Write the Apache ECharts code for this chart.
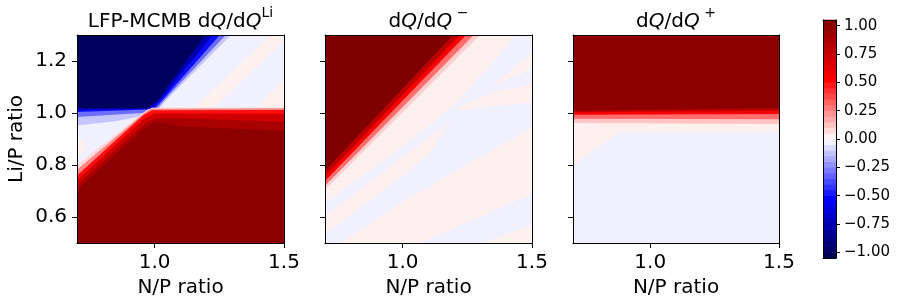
<!DOCTYPE html>
<html><head><meta charset="utf-8">
<script src="https://cdn.jsdelivr.net/npm/echarts@6/dist/echarts.min.js"></script>
<style>html,body{margin:0;padding:0;background:#fff}#c{width:900px;height:308px}</style>
</head><body><div id="c"></div>
<script>
// ---------- data ----------
const xTicks = [1.0, 1.5];
const yTicks = [0.6, 0.8, 1.0, 1.2];
const cbarTicks = [-1, -0.75, -0.5, -0.25, 0, 0.25, 0.5, 0.75, 1];
const cbarLevels = [-1.05,-1,-0.95,-0.9,-0.85,-0.8,-0.75,-0.7,-0.65,-0.6,-0.55,-0.5,-0.45,-0.4,-0.35,-0.3,-0.25,-0.2,-0.15,-0.1,-0.05,0,
  0.05,0.1,0.15,0.2,0.25,0.3,0.35,0.4,0.45,0.5,0.55,0.6,0.65,0.7,0.75,0.8,0.85,0.9,0.95,1,1.05];
const titles = ['LFP-MCMB dQ/dQ^Li', 'dQ/dQ^−', 'dQ/dQ^+'];

// contour-filled regions: value of each region and its outline in (N/P, Li/P) units, drawn in order
const p1Values = [-0.03, 0.03, 0.03, 0.03, -0.12, -0.3, -0.5, -0.75, -1.0, 0.08, 0.25, 0.5, 0.72, 0.88, 1.0];
const p1Regions = [
  [[0.7,0.5],[1.5,0.5],[1.5,1.3],[0.7,1.3]],
  [[1.15,1.017],[1.225,1.017],[1.5,1.277],[1.5,1.3],[1.45,1.3]],
  [[1.39,1.017],[1.5,1.017],[1.5,1.13]],
  [[0.7,0.83],[0.735,0.86],[0.725,0.895],[0.7,0.905]],
  [[0.7,1.3],[1.295,1.3],[1.14,1.145],[1.05,1.055],[1.012,1.012],[0.96,0.99],[0.85,0.968],[0.7,0.952]],
  [[0.7,1.3],[1.275,1.3],[1.128,1.145],[1.042,1.055],[1.005,1.012],[0.95,1.0],[0.7,0.985]],
  [[0.7,1.3],[1.252,1.3],[1.115,1.145],[1.035,1.055],[0.997,1.014],[0.7,1.004]],
  [[0.7,1.3],[1.225,1.3],[1.098,1.145],[1.026,1.055],[0.985,1.016],[0.7,1.012]],
  [[0.7,1.3],[1.197,1.3],[1.081,1.145],[1.017,1.055],[0.972,1.018],[0.7,1.018]],
  [[0.7,0.5],[1.5,0.5],[1.5,1.021],[0.99,1.02],[0.97,1.012],[0.7,0.80]],
  [[0.7,0.5],[1.5,0.5],[1.5,1.018],[0.985,1.016],[0.96,1.0],[0.7,0.782]],
  [[0.7,0.5],[1.5,0.5],[1.5,1.012],[0.99,1.011],[0.955,0.99],[0.7,0.76]],
  [[0.7,0.5],[1.5,0.5],[1.5,0.997],[1.0,0.998],[0.955,0.975],[0.7,0.74]],
  [[0.7,0.5],[1.5,0.5],[1.5,0.966],[1.05,0.982],[1.0,0.978],[0.955,0.955],[0.7,0.722]],
  [[0.7,0.5],[1.5,0.5],[1.5,0.932],[1.1,0.948],[1.0,0.966],[0.96,0.94],[0.7,0.705]]
];

const p2Values = [0.03, -0.03, -0.03, -0.03, 0.03, 0.1, 0.3, 0.55, 0.8, 1.05];
const p2Regions = [
  [[0.7,0.5],[1.5,0.5],[1.5,1.3],[0.7,1.3]],
  [[1.44,1.3],[1.5,1.3],[1.5,1.235],[1.23,1.0],[1.0,0.83],[0.7,0.603],[0.7,0.654],[1.0,0.87],[1.2,1.03]],
  [[1.5,1.17],[1.5,0.945],[1.3,0.83],[1.0,0.66],[0.76,0.5],[0.7,0.5],[0.7,0.535],[0.95,0.72],[1.1,0.84],[1.2,0.99],[1.3,1.08]],
  [[1.5,0.69],[1.5,0.57],[1.31,0.5],[1.07,0.5]],
  [[1.5,1.11],[1.5,1.04],[1.3,1.02],[1.225,1.008],[1.212,1.018],[1.24,1.035],[1.35,1.08]],
  [[0.7,1.3],[1.30,1.3],[0.7,0.705]],
  [[0.7,1.3],[1.275,1.3],[0.7,0.72]],
  [[0.7,1.3],[1.245,1.3],[0.7,0.738]],
  [[0.7,1.3],[1.22,1.3],[0.7,0.757]],
  [[0.7,1.3],[1.195,1.3],[0.7,0.778]]
];

const p3Values = [-0.03, 0.03, -0.03, 0.12, 0.3, 0.55, 0.8, 1.0];
const p3Regions = [
  [[0.7,0.5],[1.5,0.5],[1.5,1.3],[0.7,1.3]],
  [[0.7,0.80],[0.883,0.928],[1.5,0.925],[1.5,1.3],[0.7,1.3]],
  [[0.7,0.835],[0.712,0.852],[0.7,0.87]],
  [[0.7,0.962],[1.5,0.958],[1.5,1.3],[0.7,1.3]],
  [[0.7,0.978],[1.5,0.976],[1.5,1.3],[0.7,1.3]],
  [[0.7,0.993],[1.5,0.996],[1.5,1.3],[0.7,1.3]],
  [[0.7,1.003],[1.5,1.009],[1.5,1.3],[0.7,1.3]],
  [[0.7,1.01],[1.5,1.018],[1.5,1.3],[0.7,1.3]]
];

// ---------- styling helpers ----------
const FONT = 'DejaVu Sans';
const FS = 20;
function seismic(v) {
  let t = (v + 1.05) / 2.1; t = Math.max(0, Math.min(1, t));
  const st = [[0,0,0.3],[0,0,1],[1,1,1],[1,0,0],[0.5,0,0]];
  const s = t * 4; const i = Math.min(3, Math.floor(s)); const f = s - i;
  const a = st[i], b = st[i+1];
  return 'rgb(' + [0,1,2].map(k => Math.round(255 * (a[k] + (b[k]-a[k]) * f))).join(',') + ')';
}
const panels = [
  {left: 77, width: 207, regions: p1Regions, values: p1Values},
  {left: 325, width: 207, regions: p2Regions, values: p2Values},
  {left: 573, width: 206, regions: p3Regions, values: p3Values}
];
const TOP = 35, H = 208;
const lineS = {color: '#000', width: 1};

const grid = [], xAxis = [], yAxis = [], series = [], graphic = [];
panels.forEach((p, i) => {
  grid.push({left: p.left, top: TOP, width: p.width, height: H});
  xAxis.push({gridIndex: i, type: 'value', min: 0.7, max: 1.5, position: 'bottom', z: 10,
    axisLine: {show: true, onZero: false, lineStyle: lineS},
    axisTick: {show: true, length: 5, customValues: xTicks, lineStyle: lineS},
    axisLabel: {customValues: xTicks, formatter: v => v.toFixed(1), fontSize: FS, fontFamily: FONT, color: '#000', margin: 10},
    splitLine: {show: false},
    name: 'N/P ratio', nameLocation: 'middle', nameGap: 31,
    nameTextStyle: {fontSize: FS, fontFamily: FONT, color: '#000'}});
  xAxis.push({gridIndex: i, type: 'value', min: 0.7, max: 1.5, position: 'top', z: 10,
    axisLine: {show: true, onZero: false, lineStyle: lineS}, axisTick: {show: false}, axisLabel: {show: false}, splitLine: {show: false}});
  yAxis.push({gridIndex: i, type: 'value', min: 0.5, max: 1.3, position: 'left', z: 10,
    axisLine: {show: true, onZero: false, lineStyle: lineS},
    axisTick: {show: true, length: 5, customValues: yTicks, lineStyle: lineS},
    axisLabel: {show: i === 0, customValues: yTicks, formatter: v => v.toFixed(1), fontSize: FS, fontFamily: FONT, color: '#000', margin: 10},
    splitLine: {show: false},
    name: i === 0 ? 'Li/P ratio' : '', nameLocation: 'middle', nameGap: 50,
    nameTextStyle: {fontSize: FS, fontFamily: FONT, color: '#000'}});
  yAxis.push({gridIndex: i, type: 'value', min: 0.5, max: 1.3, position: 'right', z: 10,
    axisLine: {show: true, onZero: false, lineStyle: lineS}, axisTick: {show: false}, axisLabel: {show: false}, splitLine: {show: false}});
  series.push({type: 'custom', xAxisIndex: 2*i, yAxisIndex: 2*i, clip: true, silent: true,
    data: p.regions.map(r => r[0]),
    renderItem: (params, api) => {
      const k = params.dataIndex;
      return {type: 'polygon', shape: {points: p.regions[k].map(pt => api.coord(pt))},
        style: {fill: seismic(p.values[k])}};
    }});
});

// colorbar
grid.push({left: 823, top: 20, width: 13, height: 238});
xAxis.push({gridIndex: 3, type: 'value', min: 0, max: 1, position: 'bottom', z: 10,
  axisLine: {show: true, onZero: false, lineStyle: lineS}, axisTick: {show: false}, axisLabel: {show: false}, splitLine: {show: false}});
xAxis.push({gridIndex: 3, type: 'value', min: 0, max: 1, position: 'top', z: 10,
  axisLine: {show: true, onZero: false, lineStyle: lineS}, axisTick: {show: false}, axisLabel: {show: false}, splitLine: {show: false}});
yAxis.push({gridIndex: 3, type: 'value', min: -1.05, max: 1.05, position: 'right', z: 10,
  axisLine: {show: true, onZero: false, lineStyle: lineS},
  axisTick: {show: true, length: 4, customValues: cbarTicks, lineStyle: lineS},
  axisLabel: {customValues: cbarTicks, formatter: v => v.toFixed(2).replace('-', '\u2212'), fontSize: 15, fontFamily: FONT, color: '#000', margin: 8},
  splitLine: {show: false}});
yAxis.push({gridIndex: 3, type: 'value', min: -1.05, max: 1.05, position: 'left', z: 10,
  axisLine: {show: true, onZero: false, lineStyle: lineS}, axisTick: {show: false}, axisLabel: {show: false}, splitLine: {show: false}});
series.push({type: 'custom', xAxisIndex: 6, yAxisIndex: 6, silent: true,
  data: cbarLevels.slice(0, -1).map(l => [0.5, l]),
  renderItem: (params, api) => {
    const k = params.dataIndex;
    const a = cbarLevels[k], b = cbarLevels[k+1];
    const p1 = api.coord([0, b]), p2 = api.coord([1, a]);
    return {type: 'rect', shape: {x: p1[0], y: p1[1] - 0.3, width: p2[0] - p1[0], height: p2[1] - p1[1] + 0.6},
      style: {fill: seismic((a + b) / 2)}};
  }});

// titles (rich text for italic Q and superscripts)
const rich = {
  a: {fontSize: FS, fontFamily: FONT, fill: '#000', lineHeight: 26, verticalAlign: 'bottom'},
  q: {fontSize: FS, fontFamily: FONT, fontStyle: 'italic', fill: '#000', lineHeight: 26, verticalAlign: 'bottom'},
  s: {fontSize: 14, fontFamily: FONT, fill: '#000', lineHeight: 16, verticalAlign: 'top'}
};
function richTitle(t) {
  const m = t.match(/^(.*)dQ\/dQ\^(.*)$/);
  const pre = m[1];
  return (pre ? '{a|' + pre + 'd}' : '{a|d}') + '{q|Q}{a|/d}{q|Q}{s|' + (m[2] === 'Li' ? m[2] : ' ' + m[2]) + '}';
}
panels.forEach((p, i) => {
  graphic.push({type: 'text', x: p.left + p.width / 2, y: 19, silent: true,
    style: {text: richTitle(titles[i]), align: 'center', verticalAlign: 'middle', rich: rich}});
});

const chart = echarts.init(document.getElementById('c'), null, {renderer: 'canvas'});
chart.setOption({animation: false, backgroundColor: '#fff', grid, xAxis, yAxis, series, graphic});
</script></body></html>
